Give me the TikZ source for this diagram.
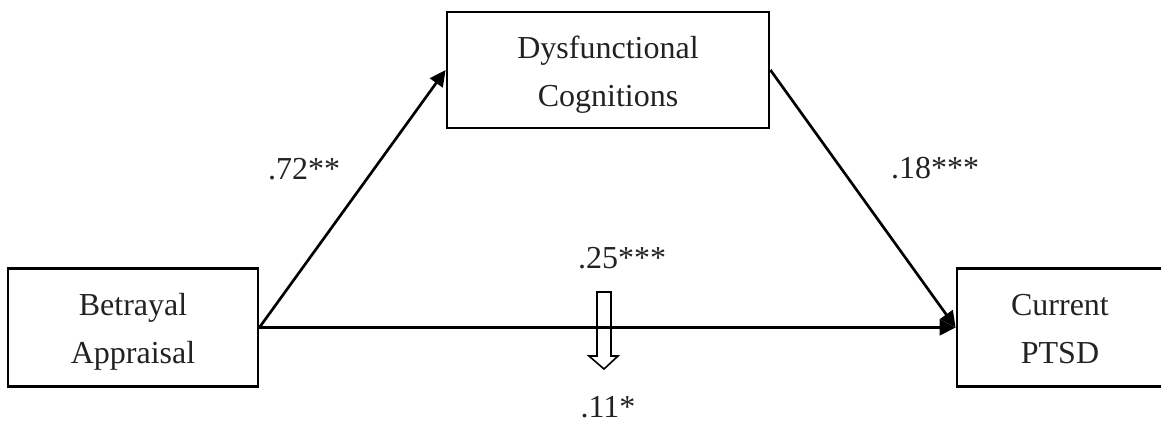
\documentclass[tikz,border=0pt]{standalone}
\usepackage{fontspec}
\setmainfont{Liberation Serif}
\usepackage{tikz}
\usetikzlibrary{arrows.meta}
\definecolor{MedInk}{HTML}{000000}
\definecolor{MedText}{HTML}{222222}

\begin{document}
\begin{tikzpicture}[x=0.375pt,y=-0.375pt,
  varbox/.style={draw=MedInk,line width=1.05pt,align=center,inner sep=0pt,
    text height=27pt,text depth=0pt,
    font=\fontsize{12pt}{18pt}\selectfont,text=MedText},
  pathlink/.style={MedInk,line width=1pt,-{Triangle[length=6pt,width=5.8pt]}},
  coef/.style={anchor=base,inner sep=0pt,font=\fontsize{12pt}{14pt}\selectfont,text=MedText}]
\path[use as bounding box] (0,0) rectangle (1161,424);
\node[varbox,minimum width=322*0.375pt,minimum height=116*0.375pt] (dys) at (608,70) {Dysfunctional\\Cognitions};
\node[varbox,minimum width=250*0.375pt,minimum height=118*0.375pt] (betray) at (133,327.5) {Betrayal\\Appraisal};
\node[varbox,minimum width=206*0.375pt,minimum height=118*0.375pt] (ptsd) at (1060,327.5) {Current\\PTSD};
\draw[pathlink] (betray.east) -- (dys.west);
\draw[pathlink] (dys.east) -- (ptsd.west);
\draw[pathlink,line width=1.15pt] (betray.east) -- (ptsd.west);
\node[coef] (a) at (304,179) {.72**};
\node[coef] (b) at (935,178) {.18***};
\node[coef] (c) at (622,268) {.25***};
\node[coef] (cp) at (608,417) {.11*};
% hollow arrow for the drop from c to c'
\draw[MedInk,line width=0.6pt] (597,292) -- (611,292) -- (611,356) -- (618,356)
  -- (604,369) -- (589,356) -- (597,356) -- cycle;
\end{tikzpicture}
\end{document}
